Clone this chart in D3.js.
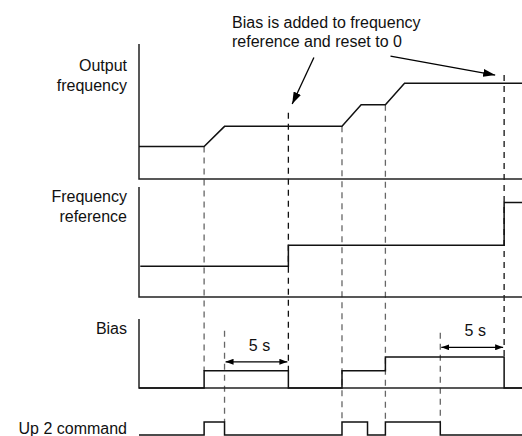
<!DOCTYPE html>
<html>
<head>
<meta charset="utf-8">
<script src="https://cdn.jsdelivr.net/npm/d3@7"></script>
<style>
  body { margin: 0; background: #fff; }
  svg { display: block; font-family: "Liberation Sans", Arial, sans-serif; }
</style>
</head>
<body>
<div id="chart"></div>
<script>
// time in seconds, signal levels in arbitrary units (0-100)
const timeDomain = [0, 30];

const outputFreq = [[0, 24], [5.1, 24], [6.7, 39], [15.9, 39], [17.4, 55], [19.3, 55], [20.8, 71], [30, 71]];
const freqRef = [[0.1, 28], [11.7, 28], [11.7, 47], [28.6, 47], [28.6, 86], [30, 86]];
const bias = [[0, 0], [5.1, 0], [5.1, 25], [11.7, 25], [11.7, 0], [15.9, 0], [15.9, 25], [19.3, 25],
              [19.3, 45], [28.6, 45], [28.6, 0], [30, 0]];
const up2 = [[0, 0], [5.1, 0], [5.1, 1], [6.7, 1], [6.7, 0], [15.9, 0], [15.9, 1], [17.9, 1], [17.9, 0],
             [19.3, 0], [19.3, 1], [23.6, 1], [23.6, 0], [30, 0]];

// dashed guides: time, from [panel, level], to [panel, level]
const guides = [
  [5.1, ["out", 24], ["bias", 25]],
  [6.7, ["bias", 83], ["up2", 1]],
  [11.7, ["out", 49], ["bias", 25]],
  [15.9, ["out", 39], ["up2", 1]],
  [19.3, ["out", 55], ["up2", 1]],
  [23.6, ["bias", 80], ["up2", 1]],
  [28.6, ["out", 77], ["bias", 45]]
];

// "5 s" spans on the bias panel
const spans = [[6.7, 11.7, 38, 53], [23.6, 28.6, 59, 75]];
const spanLabel = "5 s";

const noteLines = ["Bias is added to frequency", "reference and reset to 0"];
// annotation arrows: [start t, start level, tip t, tip level] on the output panel
const noteArrows = [[13.7, 90, 12.0, 55.5], [19.7, 91, 27.9, 77]];
const noteTargets = [11.7, 28.6];

const panelLabels = {
  out: ["Output", "frequency"],
  ref: ["Frequency", "reference"],
  bias: ["Bias"],
  up2: ["Up 2 command"]
};

const width = 522, height = 436;
const axisX = 139;

const x = d3.scaleLinear().domain(timeDomain).range([axisX, 522]);
const y = {
  out: d3.scaleLinear().domain([0, 100]).range([179, 44]),
  ref: d3.scaleLinear().domain([0, 100]).range([297, 187]),
  bias: d3.scaleLinear().domain([0, 100]).range([388, 319]),
  up2: d3.scaleLinear().domain([0, 1]).range([435, 422])
};
const labelY = { out: 71, ref: 202, bias: 334, up2: 434 };

const svg = d3.select("#chart").append("svg")
  .attr("width", width).attr("height", height);

const defs = svg.append("defs");
defs.append("marker").attr("id", "head")
  .attr("viewBox", "0 0 12 8").attr("refX", 12).attr("refY", 4)
  .attr("markerWidth", 12).attr("markerHeight", 8).attr("markerUnits", "userSpaceOnUse")
  .attr("orient", "auto")
  .append("path").attr("d", "M0,0L12,4L0,8Z").attr("fill", "#000");
defs.append("marker").attr("id", "small")
  .attr("viewBox", "0 0 8 6").attr("refX", 8).attr("refY", 3)
  .attr("markerWidth", 8).attr("markerHeight", 6).attr("markerUnits", "userSpaceOnUse")
  .attr("orient", "auto-start-reverse")
  .append("path").attr("d", "M0,0L8,3L0,6Z").attr("fill", "#000");

// dashed guides first, so signals sit on top
guides.forEach(([t, from, to]) => {
  const dark = noteTargets.includes(t);
  svg.append("line")
    .attr("x1", x(t)).attr("x2", x(t))
    .attr("y1", y[from[0]](from[1])).attr("y2", y[to[0]](to[1]))
    .attr("stroke", dark ? "#111" : "#666")
    .attr("stroke-width", 1.3)
    .attr("stroke-dasharray", "6,5");
});

// axes for the first three panels
["out", "ref", "bias"].forEach(p => {
  const [y0, y1] = y[p].range();
  svg.append("path")
    .attr("d", `M${axisX},${y1}V${y0}H${x(timeDomain[1])}`)
    .attr("fill", "none").attr("stroke", "#222").attr("stroke-width", 1.5);
});

const line = p => d3.line().x(d => x(d[0])).y(d => y[p](d[1]));
[["out", outputFreq], ["ref", freqRef], ["bias", bias], ["up2", up2]].forEach(([p, data]) => {
  svg.append("path")
    .attr("d", line(p)(data))
    .attr("fill", "none").attr("stroke", "#111").attr("stroke-width", 1.5);
});

// panel labels
Object.entries(panelLabels).forEach(([p, lines]) => {
  lines.forEach((s, i) => {
    svg.append("text")
      .attr("x", 127).attr("y", labelY[p] + i * 20)
      .attr("text-anchor", "end")
      .attr("font-size", 16).attr("fill", "#111")
      .text(s);
  });
});

// 5 s spans
spans.forEach(([t0, t1, lvl, txtLvl]) => {
  svg.append("line")
    .attr("x1", x(t0) + 1).attr("x2", x(t1) - 1)
    .attr("y1", y.bias(lvl)).attr("y2", y.bias(lvl))
    .attr("stroke", "#000").attr("stroke-width", 1.2)
    .attr("marker-start", "url(#small)").attr("marker-end", "url(#small)");
  svg.append("text")
    .attr("x", (x(t0) + x(t1)) / 2 + 3).attr("y", y.bias(txtLvl))
    .attr("text-anchor", "middle").attr("font-size", 16).attr("fill", "#111")
    .text(spanLabel);
});

// annotation
noteLines.forEach((s, i) => {
  svg.append("text")
    .attr("x", 232).attr("y", 28 + i * 19)
    .attr("font-size", 16).attr("fill", "#111")
    .text(s);
});
noteArrows.forEach(([t0, v0, t1, v1]) => {
  svg.append("line")
    .attr("x1", x(t0)).attr("y1", y.out(v0))
    .attr("x2", x(t1)).attr("y2", y.out(v1))
    .attr("stroke", "#000").attr("stroke-width", 1.3)
    .attr("marker-end", "url(#head)");
});
</script>
</body>
</html>
